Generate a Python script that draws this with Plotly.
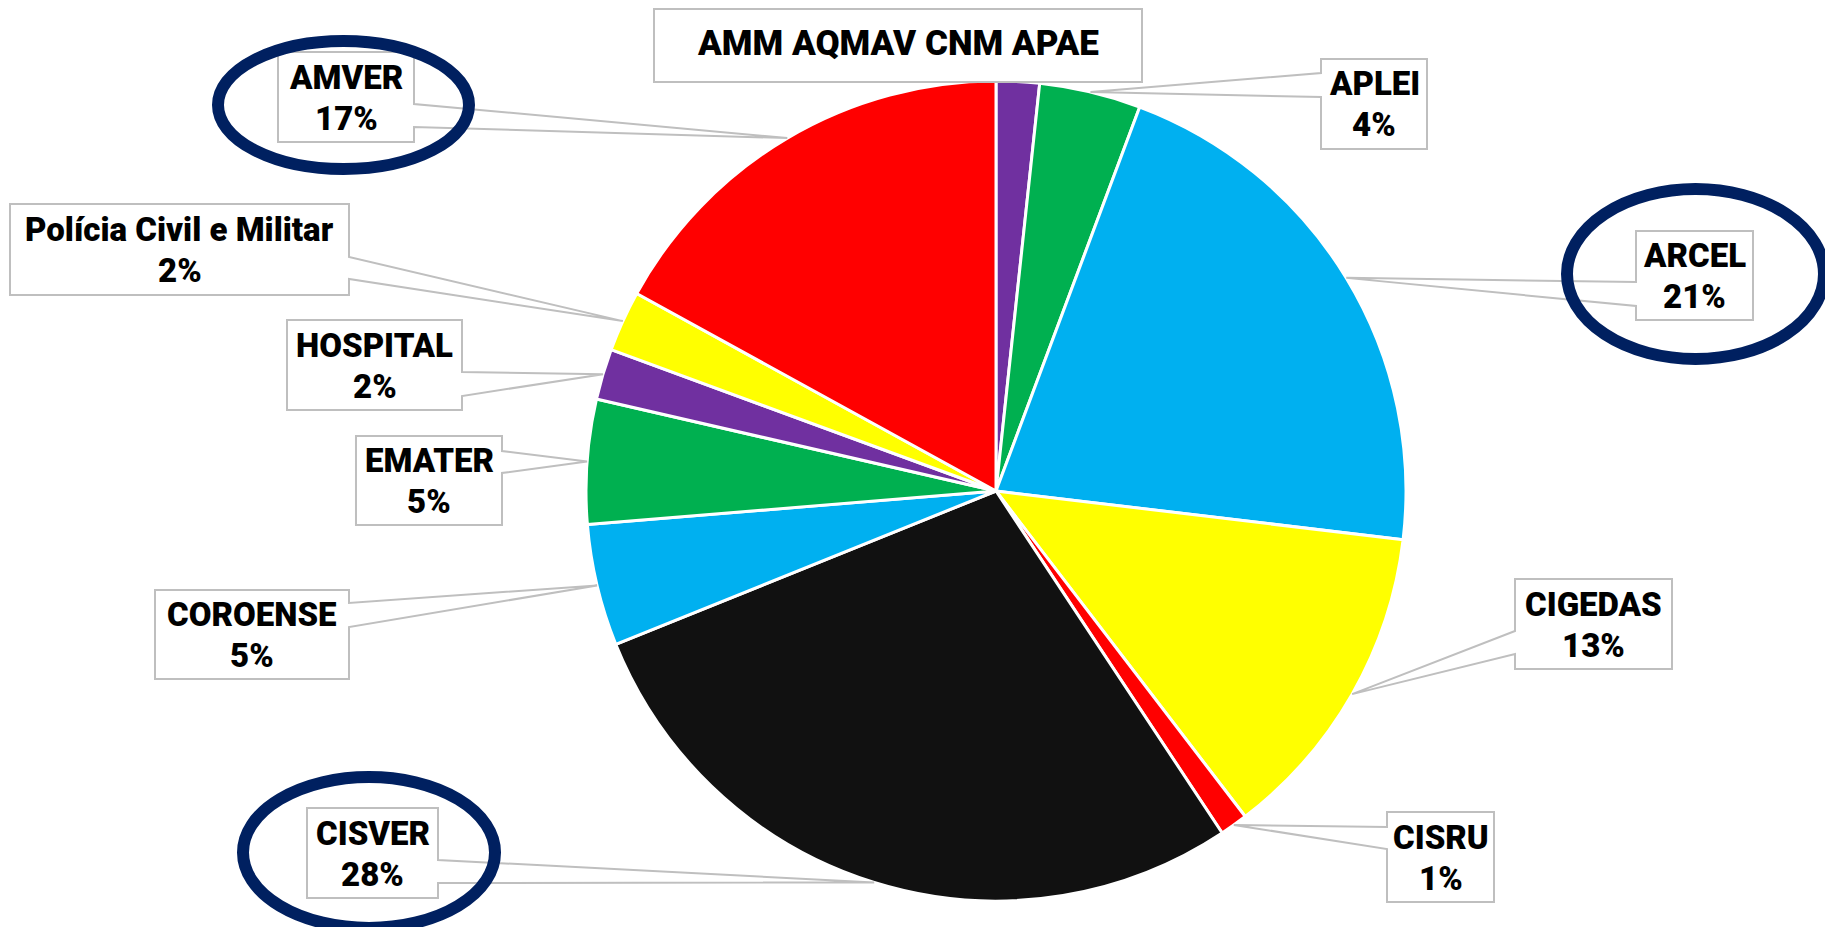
import math
import plotly.graph_objects as go

# page is 1833x935; the html body has an 8px margin, so the figure is drawn 8px in
OFF = 8
W, H = 1833 - 2 * OFF, 935 - 2 * OFF

# ---- data ----
labels = ["AMM AQMAV CNM APAE", "APLEI", "ARCEL", "CIGEDAS", "CISRU", "CISVER",
          "COROENSE", "EMATER", "HOSPITAL", "Polícia Civil e Militar", "AMVER"]
values = [1.7, 4.0, 21.2, 12.7, 1.1, 28.2, 4.8, 4.9, 2.0, 2.4, 17.0]
colors = ["#7030A0", "#00B050", "#00B0F0", "#FFFF00", "#FF0000", "#111111",
          "#00B0F0", "#00B050", "#7030A0", "#FFFF00", "#FF0000"]
show_pct = [False, True, True, True, True, True, True, True, True, True, True]
highlighted = ["AMVER", "ARCEL", "CISVER"]

# ---- layout (page-pixel geometry) ----
CX, CY, R = 996, 491, 410
# box: x0, y0, x1, y1, wedge side, wedge base y1, wedge base y2
boxes = [
    (654, 9, 1142, 82, None, 0, 0),
    (1321, 59, 1427, 149, "left", 73, 97),
    (1636, 231, 1753, 320, "left", 282, 306),
    (1515, 579, 1672, 669, "left", 631, 654),
    (1387, 812, 1494, 902, "left", 827, 849),
    (307, 808, 438, 898, "right", 860, 883),
    (155, 590, 349, 679, "right", 603, 627),
    (356, 436, 502, 525, "right", 451, 473),
    (287, 320, 462, 410, "right", 372, 396),
    (10, 204, 349, 295, "right", 257, 279),
    (278, 52, 414, 142, "right", 104, 127),
]
ellipses = {"AMVER": (218, 41, 469, 169), "ARCEL": (1567, 189, 1824, 359),
            "CISVER": (243, 777, 495, 928)}

FONT = "Roboto"


def px(x):
    return (x - OFF) / W


def py(y):
    return 1 - (y - OFF) / H


fig = go.Figure()
fig.add_trace(go.Pie(
    labels=labels, values=values, sort=False, direction="clockwise", rotation=0,
    marker=dict(colors=colors, line=dict(color="white", width=3)),
    textinfo="none", hoverinfo="label+percent", showlegend=False,
    domain=dict(x=[px(CX - R), px(CX + R)], y=[py(CY + R), py(CY - R)]),
))

total = sum(values)
shapes = []
annotations = []
cum = 0.0
for i, (lab, v) in enumerate(zip(labels, values)):
    mid = (cum + v / 2) / total * 2 * math.pi
    cum += v
    tx = CX + R * math.sin(mid)
    ty = CY - R * math.cos(mid)
    x0, y0, x1, y1, side, b1, b2 = boxes[i]
    if side == "left":
        pts = [(x0, y0), (x1, y0), (x1, y1), (x0, y1), (x0, b2), (tx, ty), (x0, b1)]
    elif side == "right":
        pts = [(x0, y0), (x1, y0), (x1, b1), (tx, ty), (x1, b2), (x1, y1), (x0, y1)]
    else:
        pts = [(x0, y0), (x1, y0), (x1, y1), (x0, y1)]
    path = "M " + " L ".join(f"{px(a):.5f},{py(b):.5f}" for a, b in pts) + " Z"
    shapes.append(dict(type="path", xref="paper", yref="paper", path=path,
                       fillcolor="white", line=dict(color="#BFBFBF", width=2),
                       layer="above"))
    cx = (x0 + x1) / 2
    cy = (y0 + y1) / 2
    if show_pct[i]:
        lines = [(lab, cy - 20, 33), (f"{round(v / total * 100)}%", cy + 21, 33)]
    else:
        lines = [(lab, 43, 35)]
    for txt, yy, fs in lines:
        annotations.append(dict(
            x=px(cx), y=py(yy), xref="paper", yref="paper", showarrow=False,
            text=txt, xanchor="center", yanchor="middle",
            font=dict(family=FONT, size=fs, color="black", weight=900)))

for name in highlighted:
    ex0, ey0, ex1, ey1 = ellipses[name]
    shapes.append(dict(type="circle", xref="paper", yref="paper",
                       x0=px(ex0), x1=px(ex1), y0=py(ey1), y1=py(ey0),
                       line=dict(color="#002060", width=12), layer="above"))

fig.update_layout(
    width=W, height=H, margin=dict(l=0, r=0, t=0, b=0),
    paper_bgcolor="white", plot_bgcolor="white",
    shapes=shapes, annotations=annotations,
)
fig.write_html("out.html")
